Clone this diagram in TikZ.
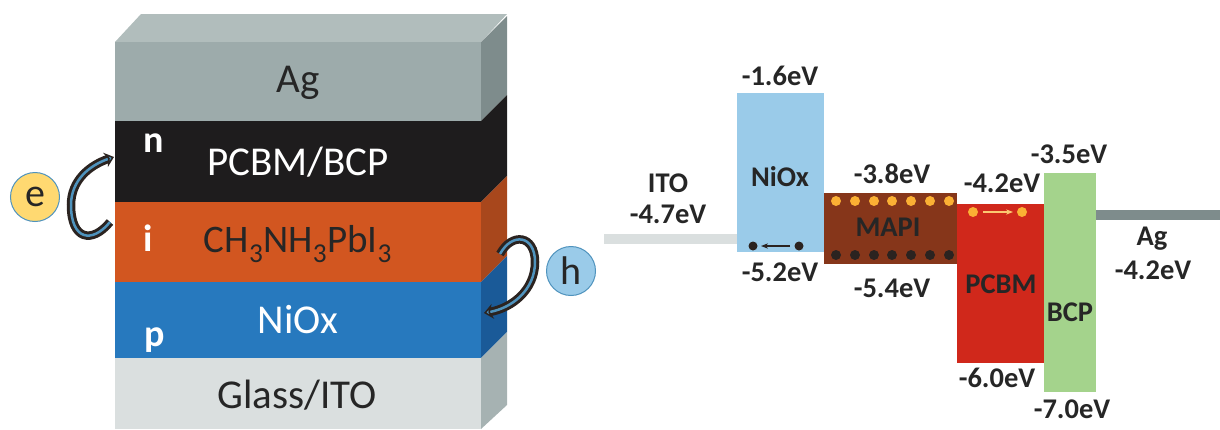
\documentclass[tikz,border=0pt]{standalone}
\usepackage{fontspec}
\setmainfont{Carlito}
\usetikzlibrary{arrows.meta}
\definecolor{agfront}{HTML}{9DABAB}
\definecolor{agtop}{HTML}{B1BDBC}
\definecolor{agside}{HTML}{7E8C8C}
\definecolor{blacklayer}{HTML}{1E1C1D}
\definecolor{orangelayer}{HTML}{D25620}
\definecolor{orangeside}{HTML}{A8471C}
\definecolor{bluelayer}{HTML}{2779BE}
\definecolor{blueside}{HTML}{1A5A98}
\definecolor{glasslayer}{HTML}{DADFDF}
\definecolor{glassside}{HTML}{A6B2B2}
\definecolor{niox}{HTML}{9ACBE9}
\definecolor{mapi}{HTML}{86361A}
\definecolor{pcbm}{HTML}{D0281B}
\definecolor{bcp}{HTML}{A4D38C}
\definecolor{carrier}{HTML}{FBB034}
\definecolor{hole}{HTML}{2B2320}
\definecolor{ebadge}{HTML}{FFD971}
\definecolor{ringblue}{HTML}{4F93BD}
\definecolor{txt}{HTML}{262626}
\tikzset{
    layertext/.style={font=\fontsize{41}{44}\selectfont,text=txt,inner sep=0pt},
    pntext/.style={font=\fontsize{38}{40}\selectfont\bfseries,text=white,inner sep=0pt},
    level/.style={font=\fontsize{28.5}{30}\selectfont\bfseries,text=txt,inner sep=0pt},
    badge/.style={circle,draw=ringblue,line width=1pt,minimum size=49pt,inner sep=0pt,
        font=\fontsize{40}{40}\selectfont,text=txt},
    hop/.style={line width=3pt,draw=hole,double=ringblue,double distance=2.5pt,
        -{Stealth[length=9pt,width=15pt,line width=1.5pt,fill=ringblue,color=hole]}},
}
\begin{document}
\begin{tikzpicture}[x=1pt,y=-1pt]
\useasboundingbox (0,0) rectangle (1220,429);
% device stack
\fill[agtop] (115,42) -- (141,14) -- (507,14) -- (481,42) -- cycle;
\foreach \ya/\yb/\front/\side in {42/121/agfront/agside,121/202/blacklayer/blacklayer,202/282/orangelayer/orangeside,282/358/bluelayer/blueside}{
    \fill[\front] (115,\ya) rectangle (481,\yb);
    \pgfmathsetmacro{\yc}{\ya-26}
    \pgfmathsetmacro{\yd}{\yb-26}
    \fill[\side] (481,\ya) -- (507,\yc) -- (507,\yd) -- (481,\yb) -- cycle;
}
\fill[glasslayer] (115,358) rectangle (481,429);
\fill[glassside] (481,358) -- (507,332) -- (507,405) -- (481,429) -- cycle;

\node[layertext] (agtext) at (298,83) {Ag};
\node[layertext,text=white] (pcbmbcp) at (298,162) {PCBM/BCP};
\node[layertext,font=\fontsize{39}{42}\selectfont] (perovskite) at (298,244) {CH\textsubscript{3}NH\textsubscript{3}PbI\textsubscript{3}};
\node[layertext,text=white] (nioxtext) at (298,320) {NiOx};
\node[layertext] (glass) at (297,395) {Glass/ITO};
\node[pntext] (ntype) at (154,143) {n};
\node[pntext] (itype) at (148,238) {i};
\node[pntext] (ptype) at (155,340) {p};

% carriers leaving the stack
\node[badge,fill=ebadge] (e) at (35,197) {e};
\node[badge,fill=niox] (h) at (571,271) {h};
\coordinate (estart) at (110,222);
\coordinate (eend) at (114,157);
\coordinate (hstart) at (500,254);
\coordinate (hend) at (484,313);
\draw[hop] (estart) .. controls (92,244) and (71,240) .. (71,205) .. controls (71,180) and (90,165) .. (eend);
\draw[hop] (hstart) .. controls (512,232) and (535,235) .. (535,262) .. controls (535,290) and (512,308) .. (hend);

% energy levels
\fill[glasslayer] (604,234) rectangle (737,244);
\fill[agside] (1096,210) rectangle (1220,220);
\fill[niox] (737,93) rectangle (824,252);
\fill[mapi] (824,193) rectangle (957,264);
\fill[pcbm] (957,204) rectangle (1044,363);
\fill[bcp] (1044,173) rectangle (1096,392);

\foreach \x in {836,855,874,892,911,930,949}{
    \fill[carrier] (\x,201) circle (5);
    \fill[hole] (\x,255) circle (5);
}
\foreach \x in {973,1022}
    \fill[carrier] (\x,212) circle (5);
\foreach \x in {753,799}
    \fill[hole] (\x,246) circle (4.5);
\coordinate (ea) at (983,212);
\coordinate (eb) at (1013,212);
\coordinate (ha) at (790,246);
\coordinate (hb) at (761,246);
\draw[carrier!70!white,line width=2pt,-{Stealth[length=7pt]}] (ea) -- (eb);
\draw[hole,line width=2pt,-{Stealth[length=7pt]}] (ha) -- (hb);

\node[level] (itoname) at (668,183) {ITO};
\node[level] (itoval) at (668,214) {-4.7eV};
\node[level] (nioxtop) at (780,76) {-1.6eV};
\node[level] (nioxname) at (780,177) {NiOx};
\node[level] (nioxbot) at (780,272) {-5.2eV};
\node[level] (mapitop) at (892,174) {-3.8eV};
\node[level] (mapiname) at (888,227) {MAPI};
\node[level] (mapibot) at (892,288) {-5.4eV};
\node[level] (pcbmtop) at (1002,183) {-4.2eV};
\node[level] (pcbmname) at (1001,284) {PCBM};
\node[level] (pcbmbot) at (997,378) {-6.0eV};
\node[level] (bcptop) at (1069,154) {-3.5eV};
\node[level] (bcpname) at (1070,312) {BCP};
\node[level] (bcpbot) at (1072,409) {-7.0eV};
\node[level] (agname) at (1152,239) {Ag};
\node[level] (agval) at (1153,270) {-4.2eV};
\end{tikzpicture}
\end{document}
